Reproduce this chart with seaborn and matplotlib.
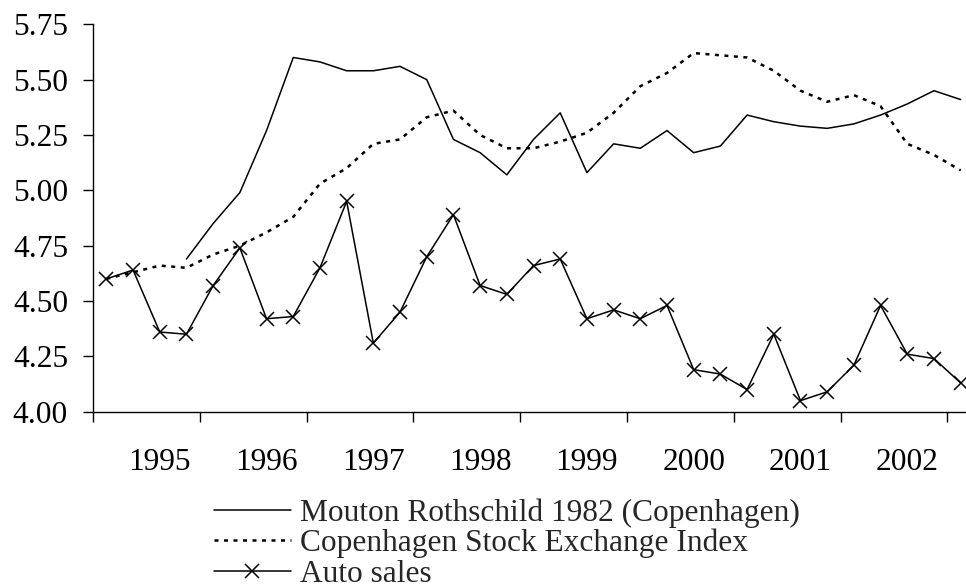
import numpy as np
import pandas as pd
import seaborn as sns
import matplotlib.pyplot as plt

# quarterly observations, 1994Q3 .. 2002Q3
quarters = [f"{y}Q{q}" for y in range(1994, 2003) for q in range(1, 5)][2:35]

mouton = [np.nan, np.nan, np.nan, 4.69, 4.85, 4.99, 5.27, 5.60, 5.58, 5.54,
          5.54, 5.56, 5.50, 5.23, 5.17, 5.07, 5.23, 5.35, 5.08, 5.21,
          5.19, 5.27, 5.17, 5.20, 5.34, 5.31, 5.29, 5.28, 5.30, 5.34,
          5.39, 5.45, 5.41]
kfx = [4.60, 4.63, 4.66, 4.65, 4.71, 4.75, 4.81, 4.88, 5.03, 5.10,
       5.21, 5.23, 5.33, 5.36, 5.25, 5.19, 5.19, 5.22, 5.26, 5.35,
       5.47, 5.53, 5.62, 5.61, 5.60, 5.54, 5.45, 5.40, 5.43, 5.38,
       5.21, 5.16, 5.09]
auto_sales = [4.60, 4.64, 4.36, 4.35, 4.57, 4.74, 4.42, 4.43, 4.65, 4.95,
              4.31, 4.45, 4.70, 4.89, 4.57, 4.53, 4.66, 4.69, 4.42, 4.46,
              4.42, 4.48, 4.19, 4.17, 4.10, 4.35, 4.05, 4.09, 4.21, 4.48,
              4.26, 4.24, 4.13]

years = list(range(1995, 2003))
y_ticks = [4.00, 4.25, 4.50, 4.75, 5.00, 5.25, 5.50, 5.75]

data = pd.DataFrame({"quarter": quarters, "i": np.arange(len(quarters)),
                     "mouton": mouton, "kfx": kfx, "auto": auto_sales})

sns.set_theme(style="ticks")
plt.rcParams['font.family'] = ['Liberation Serif', 'DejaVu Serif']
FS = 22.6

fig = plt.figure(figsize=(9.66, 5.88), dpi=100)
ax = fig.add_axes([0.0963, 0.2998, 1 - 0.0963, 0.9587 - 0.2998])

sns.lineplot(x="i", y="mouton", data=data, ax=ax, color="black", lw=1.1,
             label="Mouton Rothschild 1982 (Copenhagen)")
sns.lineplot(x="i", y="kfx", data=data, ax=ax, color="black", lw=1.8,
             linestyle=(0, (1.6, 2.2)), label="Copenhagen Stock Exchange Index")
sns.lineplot(x="i", y="auto", data=data, ax=ax, color="black", lw=1.1,
             marker="x", markersize=9.5, markeredgewidth=1.1, markeredgecolor="black",
             label="Auto sales")

ax.set_xlim(-0.5, 32.2)
ax.set_ylim(4.0, 5.75)
ax.set_xlabel("")
ax.set_ylabel("")
sns.despine(ax=ax)
for s in ["left", "bottom"]:
    ax.spines[s].set_color("black")
    ax.spines[s].set_linewidth(1.0)

ax.set_yticks(y_ticks)
ax.set_yticklabels([f"{v:.2f}" for v in y_ticks])
ax.tick_params(axis="y", direction="out", length=7, width=1, color="black",
               pad=11, labelsize=FS, labelcolor="black")

ax.set_xticks(np.arange(-0.5, 32, 4))
ax.set_xticklabels([])
ax.tick_params(axis="x", which="major", direction="out", length=7, width=1, color="black")
label_pos = [quarters.index(f"{y}Q1") for y in years]
ax.set_xticks(label_pos, minor=True)
ax.set_xticklabels([str(y) for y in years], minor=True)
ax.tick_params(axis="x", which="minor", length=0, pad=26, labelsize=FS, labelcolor="black")

ax.legend(loc="upper left", bbox_to_anchor=(214 / 966, 1 - 498 / 588),
          bbox_transform=fig.transFigure, frameon=False, fontsize=FS,
          labelspacing=0.04, handlelength=2.45, handletextpad=0.3,
          borderpad=0, borderaxespad=0)

fig.savefig("out.png", dpi=100)
